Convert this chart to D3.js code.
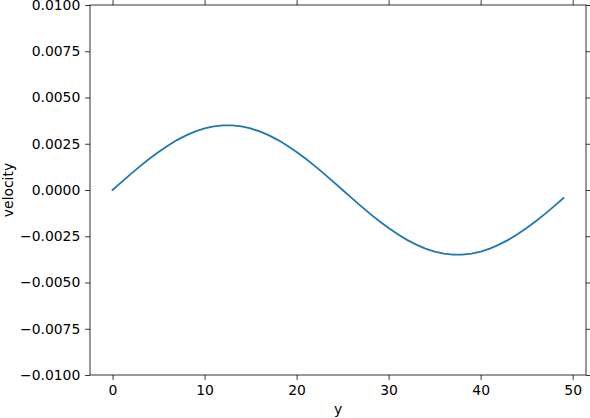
<!DOCTYPE html>
<html>
<head>
<meta charset="utf-8">
<script src="https://cdn.jsdelivr.net/npm/d3@7"></script>
<style>
  body { margin: 0; background: #fff; }
  text { font-family: "DejaVu Sans", sans-serif; fill: #000; }
</style>
</head>
<body>
<div id="chart"></div>
<script>
// values, one per y position 0..49
const positions = d3.range(0, 50);
const velocity = [
  0, 0.000439, 0.000870, 0.001288, 0.001686, 0.002057, 0.002396, 0.002697, 0.002955, 0.003167,
  0.003329, 0.003438, 0.003493, 0.003493, 0.003438, 0.003329, 0.003167, 0.002955, 0.002697, 0.002396,
  0.002057, 0.001686, 0.001288, 0.000870, 0.000439, 0, -0.000439, -0.000870, -0.001288, -0.001686,
  -0.002057, -0.002396, -0.002697, -0.002955, -0.003167, -0.003329, -0.003438, -0.003493, -0.003493, -0.003438,
  -0.003329, -0.003167, -0.002955, -0.002697, -0.002396, -0.002057, -0.001686, -0.001288, -0.000870, -0.000439
];
const xTicks = [0, 10, 20, 30, 40, 50];
const yTicks = [-0.01, -0.0075, -0.005, -0.0025, 0, 0.0025, 0.005, 0.0075, 0.01];

const width = 590, height = 418;
const margin = { left: 90, right: 4, top: 5, bottom: 43 };
const tickLen = 4.86, tickPad = 4.86, fontSize = 13.9;

const svg = d3.select("#chart")
  .append("svg")
  .attr("width", width)
  .attr("height", height);

const x = d3.scaleLinear()
  .domain([-2.45, 51.45])
  .range([margin.left, width - margin.right]);

const y = d3.scaleLinear()
  .domain([-0.01, 0.01])
  .range([height - margin.bottom, margin.top]);

const fmtY = v => d3.format(".4f")(v).replace("-", "\u2212");

const styleAxis = (g) => {
  g.select(".domain").remove();
  g.selectAll(".tick line").attr("stroke", "#000").attr("stroke-width", 0.8);
  g.selectAll(".tick text").style("font-size", fontSize + "px");
};

// bottom + top
svg.append("g")
  .attr("transform", `translate(0,${height - margin.bottom})`)
  .call(d3.axisBottom(x).tickValues(xTicks).tickSize(tickLen).tickPadding(tickPad))
  .call(styleAxis);
svg.append("g")
  .attr("transform", `translate(0,${margin.top})`)
  .call(d3.axisTop(x).tickValues(xTicks).tickSize(tickLen).tickFormat(""))
  .call(styleAxis);

// left + right
svg.append("g")
  .attr("transform", `translate(${margin.left},0)`)
  .call(d3.axisLeft(y).tickValues(yTicks).tickSize(tickLen).tickPadding(tickPad).tickFormat(fmtY))
  .call(styleAxis);
svg.append("g")
  .attr("transform", `translate(${width - margin.right},0)`)
  .call(d3.axisRight(y).tickValues(yTicks).tickSize(tickLen).tickFormat(""))
  .call(styleAxis);

// frame
svg.append("rect")
  .attr("x", margin.left)
  .attr("y", margin.top)
  .attr("width", width - margin.left - margin.right)
  .attr("height", height - margin.top - margin.bottom)
  .attr("fill", "none")
  .attr("stroke", "#000")
  .attr("stroke-width", 0.8);

const line = d3.line()
  .x((d, i) => x(positions[i]))
  .y(d => y(d));

svg.append("path")
  .datum(velocity)
  .attr("d", line)
  .attr("fill", "none")
  .attr("stroke", "#1f77b4")
  .attr("stroke-width", 1.8)
  .attr("stroke-linecap", "square");

svg.append("text")
  .attr("x", (margin.left + width - margin.right) / 2)
  .attr("y", height - 4)
  .attr("text-anchor", "middle")
  .style("font-size", fontSize + "px")
  .text("y");

svg.append("text")
  .attr("transform", `translate(12.5,${(margin.top + height - margin.bottom) / 2}) rotate(-90)`)
  .attr("text-anchor", "middle")
  .style("font-size", fontSize + "px")
  .text("velocity");
</script>
</body>
</html>
